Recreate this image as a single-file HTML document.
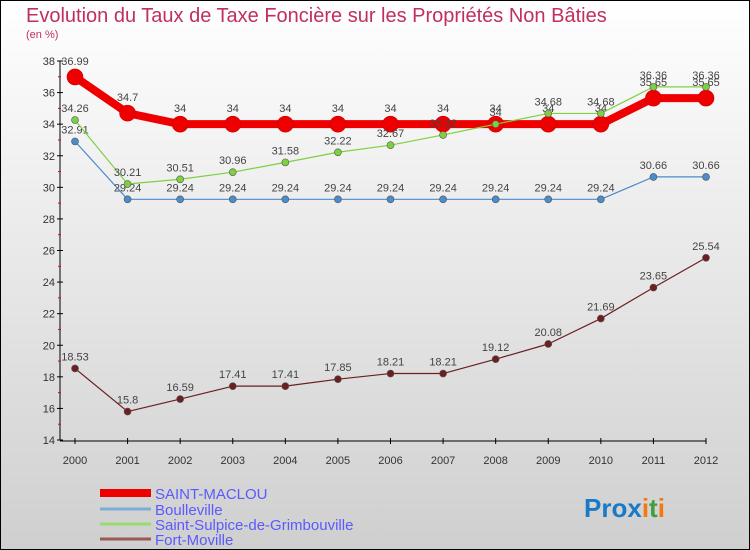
<!DOCTYPE html>
<html><head><meta charset="utf-8"><style>
body{margin:0;}
#wrap{position:relative;width:750px;height:550px;overflow:hidden;}
svg text{font-family:"Liberation Sans",sans-serif;}
</style></head><body>
<div id="wrap">
<svg id="chart" width="750" height="550" viewBox="0 0 750 550">
<defs><linearGradient id="bg" x1="0" y1="0" x2="0" y2="1"><stop offset="0" stop-color="#ffffff"/><stop offset="1" stop-color="#cfcfcf"/></linearGradient></defs>
<rect x="0.5" y="0.5" width="749" height="549" fill="url(#bg)" stroke="#000"/>
<text x="26" y="22" font-size="20" fill="#c0305a">Evolution du Taux de Taxe Foncière sur les Propriétés Non Bâties</text>
<text x="26" y="38" font-size="11" fill="#c0305a">(en %)</text>
<g id="axes"></g>
<g id="series"></g>
<g id="legend"></g>
<text x="584" y="517" font-size="26" font-weight="bold"><tspan fill="#1a7ac8">Pro</tspan><tspan fill="#1a7ac8">x</tspan><tspan fill="#f07a10">i</tspan><tspan fill="#40a040">t</tspan><tspan fill="#f07a10">i</tspan></text>
</svg>
</div>
<script>
const years=[2000,2001,2002,2003,2004,2005,2006,2007,2008,2009,2010,2011,2012];
const yTicks=[14,16,18,20,22,24,26,28,30,32,34,36,38];
const saintMaclou=[36.99,34.7,34,34,34,34,34,34,34,34,34,35.65,35.65];
const boulleville=[32.91,29.24,29.24,29.24,29.24,29.24,29.24,29.24,29.24,29.24,29.24,30.66,30.66];
const saintSulpice=[34.26,30.21,30.51,30.96,31.58,32.22,32.67,33.32,34,34.68,34.68,36.36,36.36];
const fortMoville=[18.53,15.8,16.59,17.41,17.41,17.85,18.21,18.21,19.12,20.08,21.69,23.65,25.54];
const seriesNames=["SAINT-MACLOU","Boulleville","Saint-Sulpice-de-Grimbouville","Fort-Moville"];

const NS="http://www.w3.org/2000/svg";
const X0=75,X1=706,Y0=440,Y1=61,VMIN=14,VMAX=38;
const xs=i=>X0+(X1-X0)*i/(years.length-1);
const ys=v=>Y0-(v-VMIN)/(VMAX-VMIN)*(Y0-Y1);
function mk(tag,attrs,parent){const e=document.createElementNS(NS,tag);for(const k in attrs)e.setAttribute(k,attrs[k]);parent.appendChild(e);return e;}
const axes=document.getElementById('axes');
let l=mk('line',{x1:60,y1:Y1,x2:60,y2:Y0,stroke:'#000'},axes);


l=mk('line',{x1:60,y1:Y0+1,x2:X1,y2:Y0+1,stroke:'#000'},axes);


yTicks.forEach(t=>{
  mk('line',{x1:57,y1:ys(t),x2:63,y2:ys(t),stroke:'#000'},axes);
  const tx=mk('text',{x:55,y:ys(t)+4,'font-size':11,fill:'#333','text-anchor':'end'},axes);
  tx.textContent=t;
  
  
  if(t<VMAX) mk('line',{x1:58,y1:ys(t+1),x2:61,y2:ys(t+1),stroke:'#e00'},axes);
});
years.forEach((yr,i)=>{
  mk('line',{x1:xs(i),y1:Y0-2,x2:xs(i),y2:Y0+4,stroke:'#000'},axes);
  const tx=mk('text',{x:xs(i),y:Y0+24,'font-size':11,fill:'#333','text-anchor':'middle'},axes);
  tx.textContent=yr;
  
  
});
const sg=document.getElementById('series');
const defs=[
 {d:fortMoville,c:'#6b1f22',w:1.2,r:3.5,n:'fort-moville'},
 {d:boulleville,c:'#4a8ccc',w:1.2,r:3.5,n:'boulleville'},
 {d:saintMaclou,c:'#ee0000',w:8,r:8,n:'saint-maclou'},
 {d:saintSulpice,c:'#7ed040',w:1.2,r:3.5,n:'saint-sulpice'}
];
defs.forEach(s=>{
  const g=mk('g',{},sg);
  
  
  const p=mk('polyline',{points:s.d.map((v,i)=>xs(i)+','+ys(v)).join(' '),fill:'none',stroke:s.c,'stroke-width':s.w,'stroke-linejoin':'round'},g);
  
  
  s.d.forEach((v,i)=>{
    const c=mk('circle',{cx:xs(i),cy:ys(v),r:s.r,fill:s.c,stroke:s.w>2?'#c00':'#555','stroke-width':0.6},g);
    
    
    const t=mk('text',{x:xs(i),y:ys(v)-(s.w>2?12:8),'font-size':11,fill:'#444','text-anchor':'middle'},g);
    t.textContent=v;
    
    
  });
});
const lg=document.getElementById('legend');
const lc=['#ee0000','#7aaed6','#98dc70','#9a5a55'],lw=[8,3,3,3],ly=[493,509,524,539];
seriesNames.forEach((n,i)=>{
  const li=mk('line',{x1:100,y1:ly[i],x2:151,y2:ly[i],stroke:lc[i],'stroke-width':lw[i]},lg);
  
  
  const t=mk('text',{x:155,y:ly[i]+6,'font-size':15,fill:'#5a5aff'},lg);
  t.textContent=n;
  
  
});
</script>
</body></html>
